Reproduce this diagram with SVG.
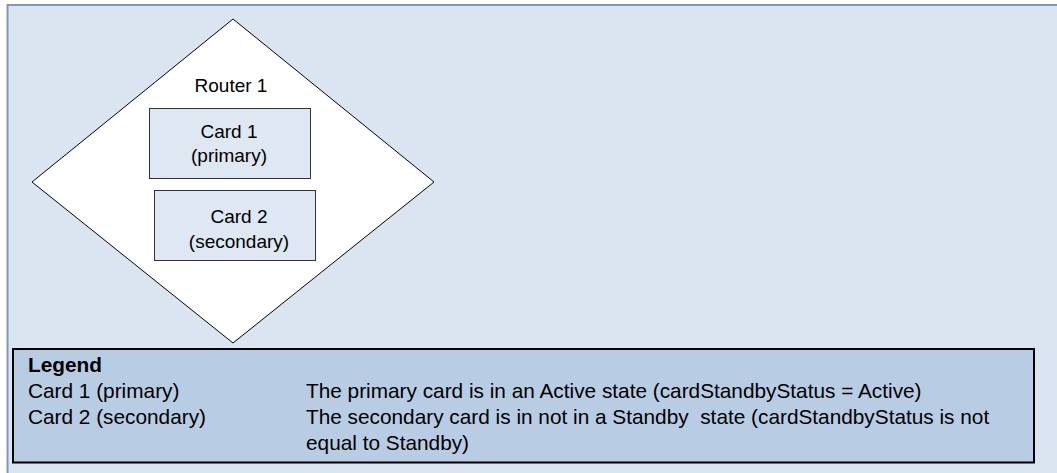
<svg xmlns="http://www.w3.org/2000/svg" width="1057" height="473" viewBox="0 0 1057 473">
<style>
.lbl{font-family:"Liberation Sans",Arial,sans-serif;font-size:19px;fill:#000;text-anchor:middle}
.leg{font-family:"Liberation Sans",Arial,sans-serif;font-size:20.8px;fill:#000}
.card{fill:#dfe7f3;stroke:#333;stroke-width:1}
</style>
<rect x="0" y="0" width="1057" height="473" fill="#ffffff"/>
<g id="frame">
<rect x="7.5" y="5" width="1060" height="480" fill="#dbe5f1" stroke="#7f97b9" stroke-width="2"/>
</g>
<g id="connectors"></g>
<g id="router1">
<polygon points="233,19 434,182 233,343 32,182" fill="#ffffff" stroke="#000" stroke-width="1"/>
<text class="lbl" x="231" y="92">Router 1</text>
</g>
<g id="card1">
<rect class="card" x="149.5" y="108.5" width="161" height="70"/>
<text class="lbl" x="229" y="138">Card 1</text>
<text class="lbl" x="229" y="162">(primary)</text>
</g>
<g id="card2">
<rect class="card" x="154.5" y="190.5" width="161" height="70"/>
<text class="lbl" x="239" y="223">Card 2</text>
<text class="lbl" x="239" y="248">(secondary)</text>
</g>
<g id="legend">
<rect x="13" y="349" width="1021" height="113.5" fill="#b8cce4" stroke="#000" stroke-width="2"/>
<text class="leg" x="28" y="372" font-weight="bold">Legend</text>
<text class="leg" x="28" y="398">Card 1 (primary)</text>
<text class="leg" x="28" y="424">Card 2 (secondary)</text>
<text class="leg" x="306" y="398">The primary card is in an Active state (cardStandbyStatus = Active)</text>
<text class="leg" x="306" y="424" xml:space="preserve">The secondary card is in not in a Standby  state (cardStandbyStatus is not</text>
<text class="leg" x="306" y="450">equal to Standby)</text>
</g>
</svg>
